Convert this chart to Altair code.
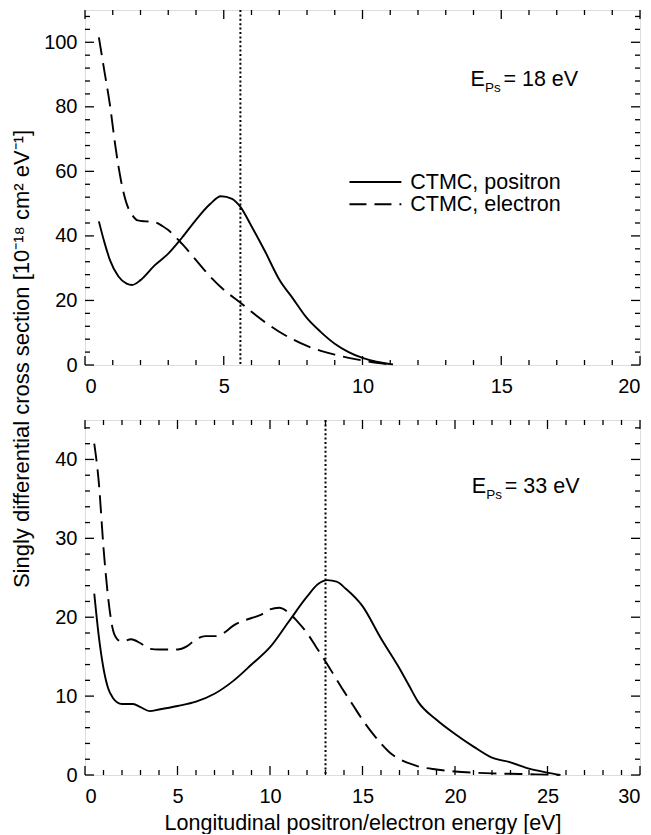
import altair as alt
import pandas as pd

FONT = "Liberation Sans"

# ---------------- data: top panel (E_Ps = 18 eV) ----------------
top_pos_x = [0.5, 0.7, 0.9, 1.2, 1.5, 1.7, 2.0, 2.5, 3.0, 3.5, 4.0, 4.5, 4.9, 5.3, 5.6,
             6.0, 6.5, 7.0, 7.5, 8.0, 8.5, 9.0, 9.5, 10.0, 10.5, 11.1]
top_pos_y = [44.5, 38, 32.5, 27.5, 25.2, 24.8, 26.3, 30.8, 34.5, 39.5, 45, 49.8, 52.3, 51.5, 49,
             43, 35, 26.5, 20.5, 14.5, 10.2, 6.6, 4.0, 2.2, 1.0, 0.2]
top_ele_x = [0.5, 0.7, 0.9, 1.1, 1.3, 1.5, 1.7, 1.9, 2.2, 2.5, 2.8, 3.0, 3.5, 4.0, 4.5, 5.0,
             5.6, 6.0, 6.5, 7.0, 7.5, 8.0, 8.5, 9.0, 9.5, 10.0, 10.5, 11.1]
top_ele_y = [101.5, 91, 80.5, 67.5, 57, 50, 46.5, 44.8, 44.5, 44.3, 43, 41.8, 37.5, 32.5, 27.5, 23.3,
             19.3, 16.5, 13.2, 10.3, 7.9, 5.9, 4.4, 3.2, 2.2, 1.4, 0.7, 0.1]
top_vline = [5.6]

# ---------------- data: bottom panel (E_Ps = 33 eV) ----------------
bot_pos_x = [0.5, 0.75, 1.0, 1.25, 1.5, 1.75, 2.0, 2.6, 3.0, 3.5, 4.0, 5.0, 6.0, 7.0, 8.0, 9.0,
             10.0, 11.0, 12.0, 12.6, 13.1, 13.6, 14.1, 15.0, 16.0, 16.9, 17.5, 18.0, 19.0, 20.0,
             21.0, 22.0, 23.0, 24.0, 25.0, 25.7]
bot_pos_y = [23, 17.5, 13.5, 11, 9.8, 9.2, 9.0, 9.0, 8.6, 8.1, 8.3, 8.75, 9.3, 10.3, 11.9, 14.0,
             16.2, 19.4, 22.6, 24.2, 24.7, 24.5, 23.6, 21.4, 17.3, 13.9, 11.4, 9.3, 7.0, 5.2,
             3.6, 2.2, 1.6, 0.8, 0.3, 0.0]
bot_ele_x = [0.5, 0.75, 1.0, 1.25, 1.5, 1.75, 2.0, 2.5, 3.0, 3.5, 4.0, 5.0, 5.5, 6.0, 6.5, 7.0,
             7.5, 8.0, 8.5, 9.0, 9.5, 10.0, 10.5, 11.0, 11.5, 12.0, 12.5, 13.0, 13.5, 14.0, 14.5,
             15.0, 15.5, 16.0, 16.5, 17.0, 17.5, 18.0, 19.0, 20.0, 21.0, 22.0, 23.0, 24.0, 25.0, 25.6]
bot_ele_y = [42, 37, 28.8, 22.5, 18.5, 17.2, 16.9, 17.2, 16.7, 16.0, 15.9, 15.9, 16.3, 17.2, 17.6, 17.6,
             18.0, 18.9, 19.5, 19.9, 20.3, 21.0, 21.2, 20.6, 19.4, 18.0, 16.2, 14.4, 12.5, 10.6, 8.8,
             7.0, 5.4, 4.0, 2.8, 2.0, 1.5, 1.1, 0.7, 0.45, 0.3, 0.2, 0.15, 0.1, 0.05, 0.0]
bot_vline = [13.0]

# ---------------- text ----------------
series_labels = ["CTMC, positron", "CTMC, electron"]
y_title = "Singly differential cross section [10\u207b\u00b9\u2078 cm\u00b2 eV\u207b\u00b9]"
x_title = "Longitudinal positron/electron energy [eV]"
top_energy = "= 18 eV"
bot_energy = "= 33 eV"

# ---------------- tick values ----------------
top_x_major = [0, 5, 10, 15, 20]
top_x_minor = [v for v in range(0, 21) if v % 5]
top_y_major = [0, 20, 40, 60, 80, 100]
top_y_minor = [v for v in range(0, 111, 4) if v % 20]
bot_x_major = [0, 5, 10, 15, 20, 25, 30]
bot_x_minor = [v for v in range(0, 31) if v % 5]
bot_y_major = [0, 10, 20, 30, 40]
bot_y_minor = [v for v in range(0, 46, 2) if v % 10]

W = 555
H = 355
MAJ, MIN = 9, 5
LW = 1.9


def panel(xdom, ydom, xmaj, xmin, ymaj, ymin, px, py, ex, ey, vline,
          energy_text, ex0, ey0, legend=None, extra=None, show_xtitle=False):
    xs = alt.Scale(domain=xdom, nice=False, zero=False)
    ys = alt.Scale(domain=ydom, nice=False, zero=False)
    xaxis = alt.Axis(values=xmaj, ticks=False, tickSize=0, domain=False, grid=False,
                     labelFontSize=20, labelFont=FONT, labelColor="black", labelPadding=11,
                     format="d", title=x_title if show_xtitle else None,
                     titleFontSize=21.5, titleFont=FONT, titleFontWeight="normal",
                     titleColor="black", titlePadding=6)
    yaxis = alt.Axis(values=ymaj, ticks=False, tickSize=0, domain=False, grid=False,
                     labelFontSize=20, labelFont=FONT, labelColor="black", labelPadding=8,
                     format="d", title=None)

    def X(f):
        return alt.X(f, scale=xs, axis=xaxis)

    def Y(f):
        return alt.Y(f, scale=ys, axis=yaxis)

    pos = alt.Chart(pd.DataFrame({"x": px, "y": py})).mark_line(
        color="black", strokeWidth=LW, interpolate="monotone").encode(x=X("x:Q"), y=Y("y:Q"))
    ele = alt.Chart(pd.DataFrame({"x": ex, "y": ey})).mark_line(
        color="black", strokeWidth=LW, strokeDash=[18, 8], interpolate="monotone").encode(
        x=X("x:Q"), y=Y("y:Q"))
    vl = alt.Chart(pd.DataFrame({"x": vline})).mark_rule(
        color="black", strokeWidth=2.0, strokeDash=[2, 2.4]).encode(x=X("x:Q"))
    lab_df = pd.DataFrame({"x": [ex0], "y": [ey0]})
    e1 = alt.Chart(lab_df).mark_text(text="E", align="left", baseline="alphabetic",
                                     fontSize=21.5, font=FONT, color="black").encode(
        x=X("x:Q"), y=Y("y:Q"))
    e2 = alt.Chart(lab_df).mark_text(text="Ps", align="left", baseline="alphabetic",
                                     fontSize=13.5, font=FONT, color="black", dx=14.5, dy=6).encode(
        x=X("x:Q"), y=Y("y:Q"))
    e3 = alt.Chart(lab_df).mark_text(text=energy_text, align="left", baseline="alphabetic",
                                     fontSize=21.5, font=FONT, color="black", dx=33).encode(
        x=X("x:Q"), y=Y("y:Q"))
    layers = [pos, ele, vl, e1, e2, e3]
    # inward ticks on all four sides
    for vals, ln in ((xmaj, MAJ), (xmin, MIN)):
        base = alt.Chart(pd.DataFrame({"x": vals})).mark_rule(color="black", strokeWidth=1.3)
        layers.append(base.encode(x=X("x:Q"), y=alt.value(H), y2=alt.value(H - ln)))
        layers.append(base.encode(x=X("x:Q"), y=alt.value(0), y2=alt.value(ln)))
    for vals, ln in ((ymaj, MAJ), (ymin, MIN)):
        base = alt.Chart(pd.DataFrame({"y": vals})).mark_rule(color="black", strokeWidth=1.3)
        layers.append(base.encode(y=Y("y:Q"), x=alt.value(0), x2=alt.value(ln)))
        layers.append(base.encode(y=Y("y:Q"), x=alt.value(W), x2=alt.value(W - ln)))
    if legend is not None:
        lx1, lx2, ltx, ly = legend
        for i, dash in enumerate([[1, 0], [17, 8]]):
            ldf = pd.DataFrame({"x": [lx1], "x2": [lx2], "y": [ly[i]],
                                "tx": [ltx], "lab": [series_labels[i]]})
            layers.append(alt.Chart(ldf).mark_rule(color="black", strokeWidth=LW,
                                                   strokeDash=dash).encode(
                x=X("x:Q"), x2="x2:Q", y=Y("y:Q")))
            layers.append(alt.Chart(ldf).mark_text(align="left", baseline="middle",
                                                   fontSize=21.5, font=FONT, color="black", dy=1).encode(
                x=X("tx:Q"), y=Y("y:Q"), text="lab:N"))
    if extra is not None:
        layers.append(extra)
    return alt.layer(*layers).properties(width=W, height=H)


ytitle_layer = alt.Chart(pd.DataFrame({"t": [y_title]})).mark_text(
    angle=270, align="center", baseline="alphabetic", fontSize=22, font=FONT,
    color="black").encode(x=alt.value(-56), y=alt.value(349), text="t:N")

top = panel([0, 20], [0, 110], top_x_major, top_x_minor, top_y_major, top_y_minor,
            top_pos_x, top_pos_y, top_ele_x, top_ele_y, top_vline, top_energy, 13.89, 86.5,
            legend=(9.53, 11.40, 11.72, [56.7, 49.8]), extra=ytitle_layer)
bot = panel([0, 30], [0, 45], bot_x_major, bot_x_minor, bot_y_major, bot_y_minor,
            bot_pos_x, bot_pos_y, bot_ele_x, bot_ele_y, bot_vline, bot_energy, 20.91, 35.7,
            show_xtitle=True)

chart = alt.vconcat(top, bot, spacing=55, bounds="flush",
                    padding={"left": 2, "top": 0, "right": 0, "bottom": 0}).configure_view(
    stroke="black", strokeWidth=1.5).configure(background="white")

chart.save("out.html", embed_options={"renderer": "svg", "actions": False})
